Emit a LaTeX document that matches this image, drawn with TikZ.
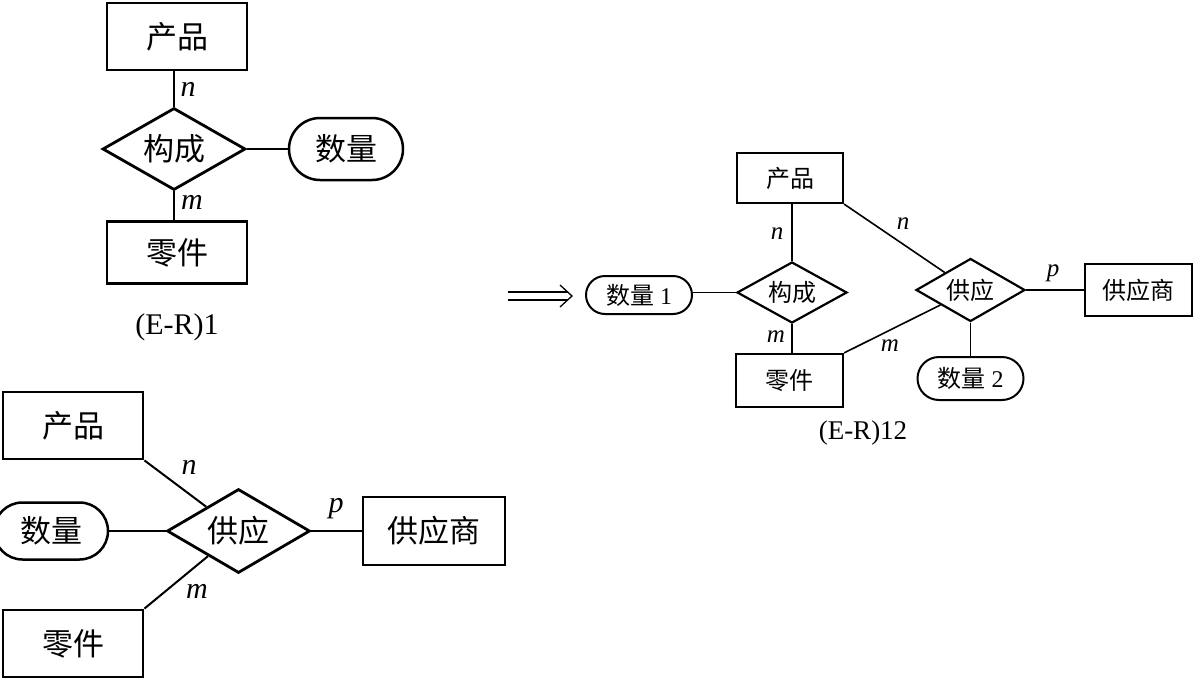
\documentclass[tikz,border=0pt]{standalone}
\usepackage{fontspec}
\setmainfont{Liberation Serif}
\newfontfamily\cjk{Noto Sans CJK SC}
\usetikzlibrary{shapes.geometric,shapes.misc}
\tikzset{
  bigf/.style={font=\fontsize{31pt}{31pt}\selectfont},
  smallf/.style={font=\fontsize{24pt}{24pt}\selectfont},
  entL/.style={draw, rectangle, line width=2.8pt, inner sep=0pt, bigf},
  entS/.style={draw, rectangle, line width=2.2pt, inner sep=0pt, smallf},
  relL/.style={draw, diamond, aspect=1.75, line width=2.8pt, inner sep=0pt, bigf},
  relS/.style={draw, diamond, aspect=1.75, line width=2.2pt, inner sep=0pt, smallf},
  attrL/.style={draw, rounded rectangle, line width=2.5pt, inner sep=0pt, bigf},
  attrS/.style={draw, rounded rectangle, line width=2pt, inner sep=0pt, smallf},
  lnL/.style={line width=2pt},
  lnS/.style={line width=1.6pt},
  cardL/.style={font=\fontsize{30pt}{30pt}\selectfont\itshape, inner sep=0pt},
  cardS/.style={font=\fontsize{25pt}{25pt}\selectfont\itshape, inner sep=0pt},
  capL/.style={font=\fontsize{30pt}{30pt}\selectfont, inner sep=0pt},
  capS/.style={font=\fontsize{27pt}{27pt}\selectfont, inner sep=0pt},
}
\begin{document}
\begin{tikzpicture}[x=1pt,y=-1pt]
\useasboundingbox (0,0) rectangle (1195,686);
% ---------- Diagram (E-R)1 ----------
\node[entL, minimum width=140pt, minimum height=67pt] (p1) at (177,36.5) {\cjk 产品};
\node[relL, minimum width=143pt, minimum height=82pt] (r1) at (174,149) {\cjk 构成};
\node[attrL, minimum width=114pt, minimum height=62pt] (a1) at (346,149) {\cjk 数量};
\node[entL, minimum width=140pt, minimum height=62pt] (e1) at (177,252.5) {\cjk 零件};
\draw[lnL] (r1.north) -- (r1.north |- p1.south);
\draw[lnL] (r1.south) -- (r1.south |- e1.north);
\draw[lnL] (r1.east) -- (a1.west);
\node[cardL] (n1) at (188,89) {n};
\node[cardL] (m1) at (192,202) {m};
\node[capL] (c1) at (177,327) {(E-R)1};
% ---------- Diagram 2 ----------
\node[entL, minimum width=140pt, minimum height=67pt] (p2) at (73,425.5) {\cjk 产品};
\node[attrL, minimum width=114pt, minimum height=57pt] (a2) at (51,531) {\cjk 数量};
\node[relL, minimum width=143pt, minimum height=84pt] (r2) at (238.5,531) {\cjk 供应};
\node[entL, minimum width=142pt, minimum height=68pt] (s2) at (434,531) {\cjk 供应商};
\node[entL, minimum width=140pt, minimum height=67pt] (e2) at (73,643.5) {\cjk 零件};
\draw[lnL] (p2.south east) -- (r2);
\draw[lnL] (e2.north east) -- (r2);
\draw[lnL] (a2.east) -- (r2.west);
\draw[lnL] (r2.east) -- (s2.west);
\node[cardL] (n2) at (189,467) {n};
\node[cardL] (m2) at (197,591) {m};
\node[cardL] (p2l) at (336,509) {p};
% ---------- Arrow ----------
\draw[line width=1.3pt] (508,292) -- (568,292);
\draw[line width=1.3pt] (508,300) -- (568,300);
\draw[line width=1.3pt] (560,285) -- (572,296) -- (560,307);
% ---------- Diagram (E-R)12 ----------
\node[entS, minimum width=106pt, minimum height=50pt] (p3) at (790,178) {\cjk 产品};
\node[relS, minimum width=110pt, minimum height=61pt] (r3) at (792,292.5) {\cjk 构成};
\node[attrS, minimum width=106pt, minimum height=38pt] (a3) at (639,295) {{\cjk 数量} 1};
\node[entS, minimum width=107pt, minimum height=53pt] (e3) at (789.5,380.5) {\cjk 零件};
\node[relS, minimum width=109pt, minimum height=63pt] (r4) at (970.5,290) {\cjk 供应};
\node[entS, minimum width=107pt, minimum height=52pt] (s3) at (1138.5,290) {\cjk 供应商};
\node[attrS, minimum width=106pt, minimum height=43pt] (a4) at (970.5,378.5) {{\cjk 数量} 2};
\draw[lnS] (r3.north) -- (r3.north |- p3.south);
\draw[lnS] (r3.south) -- (r3.south |- e3.north);
\draw[lnS] (a3.east |- r3.west) -- (r3.west);
\draw[lnS] (p3.south east) -- (r4);
\draw[lnS] (e3.north east) -- (r4);
\draw[lnS] (r4.east) -- (s3.west);
\draw[lnS] (r4.south) -- (a4.north);
\node[cardS] (n3) at (777,234) {n};
\node[cardS] (m3) at (776,337) {m};
\node[cardS] (n4) at (903,224) {n};
\node[cardS] (m4) at (890,346) {m};
\node[cardS] (p4) at (1053,273) {p};
\node[capS] (c3) at (863,433) {(E-R)12};
\end{tikzpicture}
\end{document}
